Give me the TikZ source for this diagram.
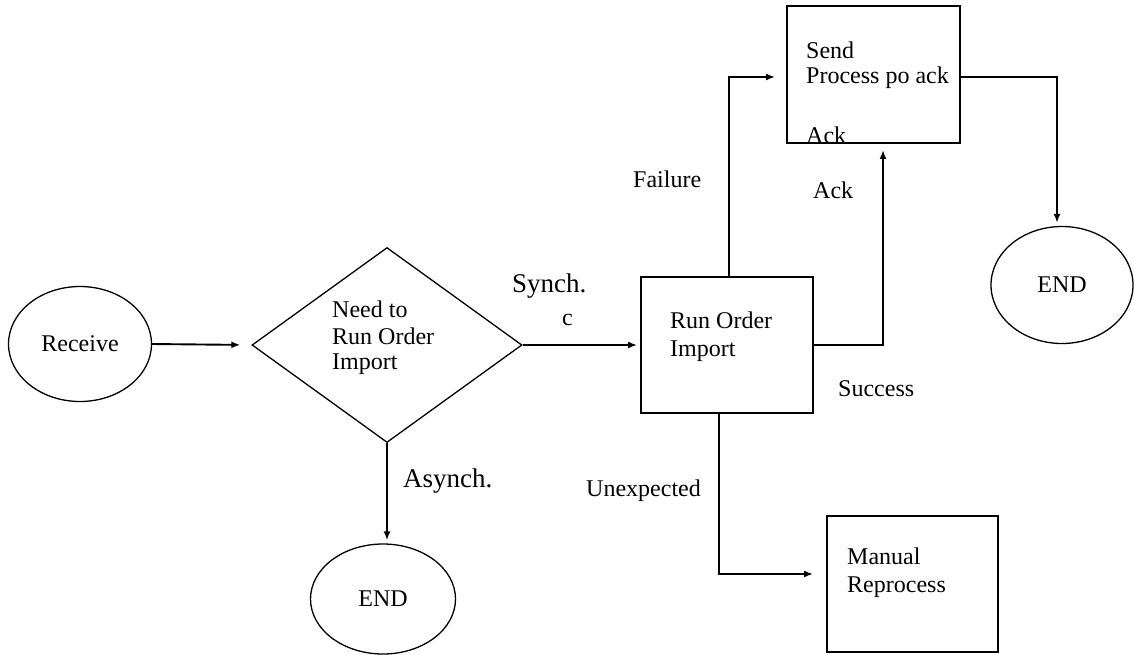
\documentclass[tikz,border=0pt]{standalone}
\usepackage{fontspec}
\setmainfont{Liberation Serif}
\usetikzlibrary{shapes.geometric,arrows.meta}
\begin{document}
\begin{tikzpicture}[x=1pt,y=-1pt,
  txt/.style={inner sep=0pt,anchor=base west,font=\fontsize{24}{28}\selectfont},
  bigtxt/.style={inner sep=0pt,anchor=base west,font=\fontsize{27}{30}\selectfont},
  oval/.style={draw,ellipse,line width=1.3pt,inner sep=0pt,font=\fontsize{24}{28}\selectfont},
  boxnode/.style={draw,rectangle,line width=1.9pt,inner sep=0pt},
  conn/.style={line width=1.9pt,-{Latex[length=9pt,width=7pt]}}]
\useasboundingbox (0,0) rectangle (1134,654);
% shapes
\node[oval,minimum width=143pt,minimum height=115pt] (rec) at (80,344) {Receive};
\node[draw,diamond,line width=1.3pt,inner sep=0pt,minimum width=270pt,minimum height=195pt] (dec) at (387,345) {};
\node[boxnode,minimum width=172pt,minimum height=136pt] (run) at (727,345) {};
\node[boxnode,minimum width=173pt,minimum height=137pt] (send) at (873.5,74.5) {};
\node[boxnode,minimum width=171pt,minimum height=136pt] (man) at (912.5,584) {};
\node[oval,minimum width=142pt,minimum height=117pt] (endA) at (1062,285) {END};
\node[oval,minimum width=145pt,minimum height=110pt] (endB) at (383,599) {END};
% texts in shapes
\node[txt] (d1) at (332,317) {Need to};
\node[txt] (d2) at (332,344) {Run Order};
\node[txt] (d3) at (332,369) {Import};
\node[txt] (r1) at (670,328) {Run Order};
\node[txt] (r2) at (670,356) {Import};
\node[txt] (s1) at (806,58) {Send};
\node[txt] (s2) at (806,83) {Process po ack};
\node[txt] (s3) at (806,143) {Ack};
\node[txt] (m1) at (847,564) {Manual};
\node[txt] (m2) at (847,592) {Reprocess};
% labels
\node[bigtxt] (lsyn) at (512,292) {Synch.};
\node[txt] (lc) at (562,325) {c};
\node[txt] (lfail) at (633,187) {Failure};
\node[txt] (lack) at (813,198) {Ack};
\node[txt] (lsucc) at (838,396) {Success};
\node[txt] (lunex) at (586,496) {Unexpected};
\node[bigtxt] (lasyn) at (403,487) {Asynch.};
% connectors
\draw[conn,shorten >=11pt] (rec.east) -- (dec.west);
\draw[conn,shorten >=3pt] (dec.east) -- (run.west);
\draw[conn,shorten >=11pt] ([xshift=2pt]run.north) |- ([yshift=-2.5pt]send.west);
\draw[conn,shorten >=6pt] (run.east) -| ([xshift=9.5pt]send.south);
\draw[conn,shorten >=3pt] ([yshift=-2.5pt]send.east) -| ([xshift=-5pt]endA.north);
\draw[conn,shorten >=3pt] (dec.south) -- (dec.south |- endB.north);
\draw[conn,shorten >=13pt] ([xshift=-8pt]run.south) |- ([yshift=10pt]man.west);
\end{tikzpicture}
\end{document}
